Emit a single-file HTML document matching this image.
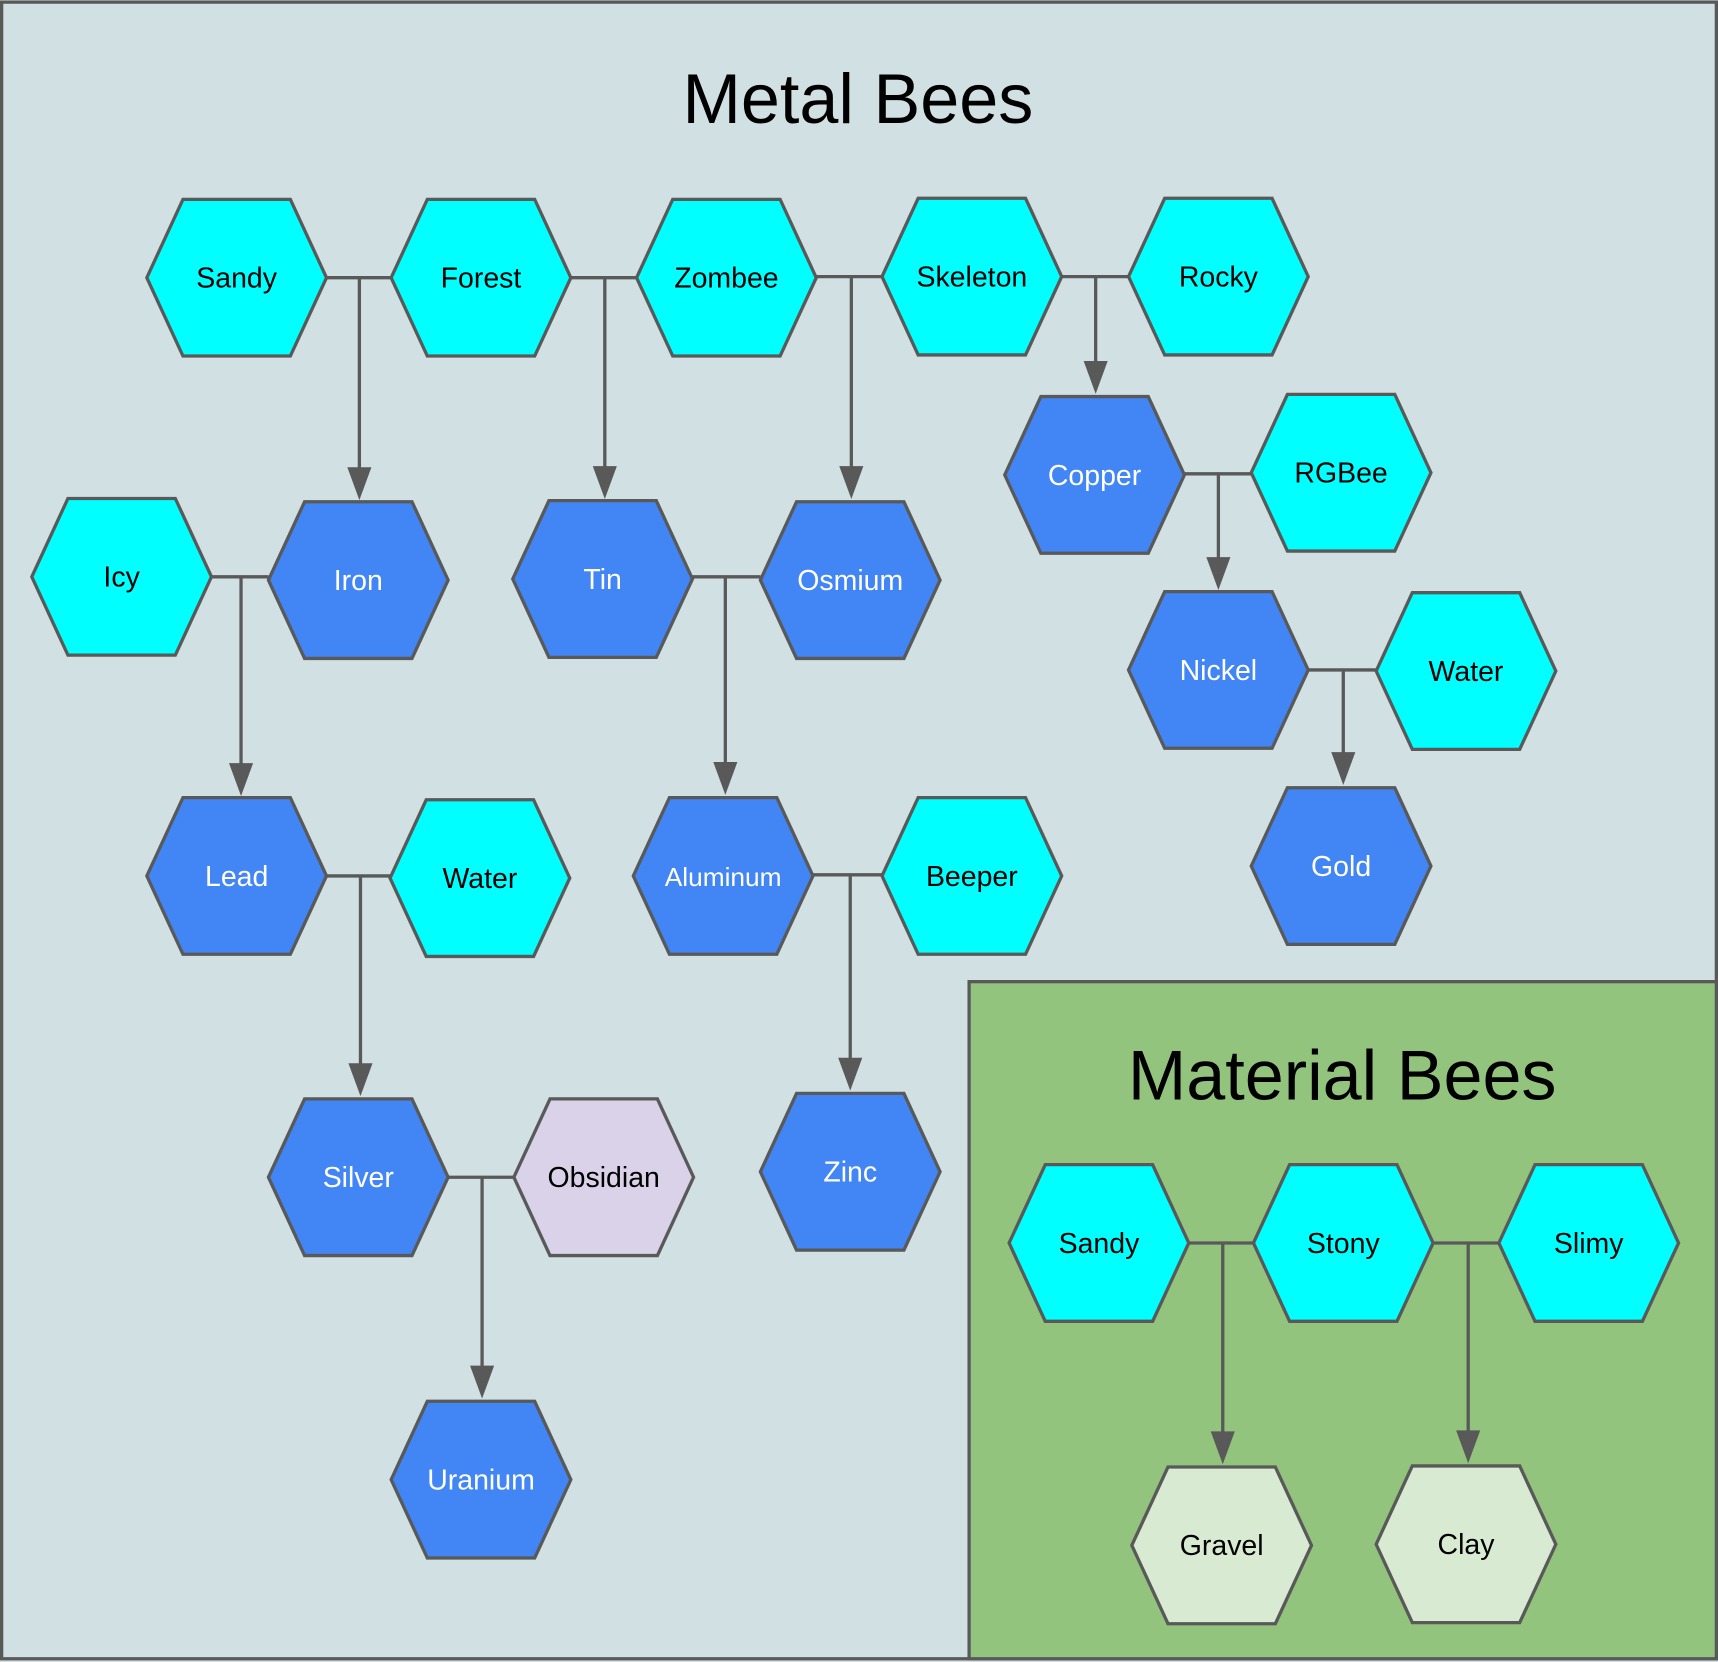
<!DOCTYPE html>
<html><head><meta charset="utf-8"><style>html,body{margin:0;padding:0;background:#d0e0e3}svg{display:block}</style></head>
<body>
<svg width="1718" height="1662" viewBox="0 0 1568 1516" xmlns="http://www.w3.org/2000/svg" font-family="Liberation Sans, Arial, sans-serif">
<defs>
<marker id="a" markerWidth="8" markerHeight="10" refX="4" refY="10" orient="auto" markerUnits="userSpaceOnUse" viewBox="0 0 8 10">
</marker>
</defs>
<rect x="1.5" y="1.5" width="1565" height="1512" fill="#d0e0e3" stroke="#595959" stroke-width="3"/>
<rect x="884.5" y="895.5" width="682" height="618" fill="#93c47d" stroke="#595959" stroke-width="3"/>
<text x="783" y="112" font-size="64" text-anchor="middle" fill="#000">Metal Bees</text>
<text x="1225" y="1003" font-size="64" text-anchor="middle" fill="#000">Material Bees</text>
<g id="edges" stroke="#595959" stroke-width="3" fill="none"></g>
<g id="arrows" fill="#595959"></g>
<g id="nodes" stroke="#595959" stroke-width="3"></g>
<g id="labels" font-size="26" text-anchor="middle"></g>
<script>
var N=[[216,253,"Sandy","c"],[439,253,"Forest","c"],[663,253,"Zombee","c"],[887,252,"Skeleton","c"],[1112,252,"Rocky","c"],
[999,433,"Copper","b"],[1224,431,"RGBee","c"],[1112,611,"Nickel","b"],[1338,612,"Water","c"],[1224,790,"Gold","b"],
[111,526,"Icy","c"],[327,529,"Iron","b"],[550,528,"Tin","b"],[776,529,"Osmium","b"],[216,799,"Lead","b"],[438,801,"Water","c"],
[660,799,"Aluminum","b"],[887,799,"Beeper","c"],[327,1074,"Silver","b"],[551,1074,"Obsidian","p"],[776,1069,"Zinc","b"],[439,1350,"Uranium","b"],
[1003,1134,"Sandy","c"],[1226,1134,"Stony","c"],[1450,1134,"Slimy","c"],[1115,1410,"Gravel","g"],[1338,1409,"Clay","g"]];
var F={c:"#00ffff",b:"#4285f4",p:"#d9d2e9",g:"#d9ead3"};
// edges: [x1,x2,y, xv, ytip]
var E=[[298,357,253,328,456],[521,581,253,552,455],[745,805,252,777,455],[969,1030,252,1000,359],
[1081,1142,432,1112,538],[1194,1256,611,1226,716],[193,245,526,220,726],[632,694,526,662,725],
[298,356,799,329,1000],[742,805,798,776,995],[409,469,1074,440,1276],[1085,1144,1134,1116,1336],[1308,1368,1134,1340,1335]];
var ns="http://www.w3.org/2000/svg";
function el(t,a,p){var e=document.createElementNS(ns,t);for(var k in a)e.setAttribute(k,a[k]);document.getElementById(p).appendChild(e);return e;}
E.forEach(function(e){
 el("path",{d:"M"+e[0]+" "+e[2]+"H"+e[1]+"M"+e[3]+" "+e[2]+"V"+(e[4]-26)},"edges");
 el("path",{d:"M"+(e[3]-11)+" "+(e[4]-30)+"H"+(e[3]+11)+"L"+e[3]+" "+e[4]+"Z"},"arrows");
});
N.forEach(function(n){
 var x=n[0],y=n[1];
 el("path",{d:"M"+(x-82)+" "+y+"L"+(x-49)+" "+(y-71.5)+"H"+(x+49)+"L"+(x+82)+" "+y+"L"+(x+49)+" "+(y+71.5)+"H"+(x-49)+"Z",fill:F[n[3]]},"nodes");
 var t=el("text",{x:x,y:y+9,fill:n[3]=="b"?"#fff":"#000"},"labels");
 if(n[2]=="Aluminum")t.setAttribute("font-size","24");
 t.textContent=n[2];
});
</script>
</svg>
</body></html>
